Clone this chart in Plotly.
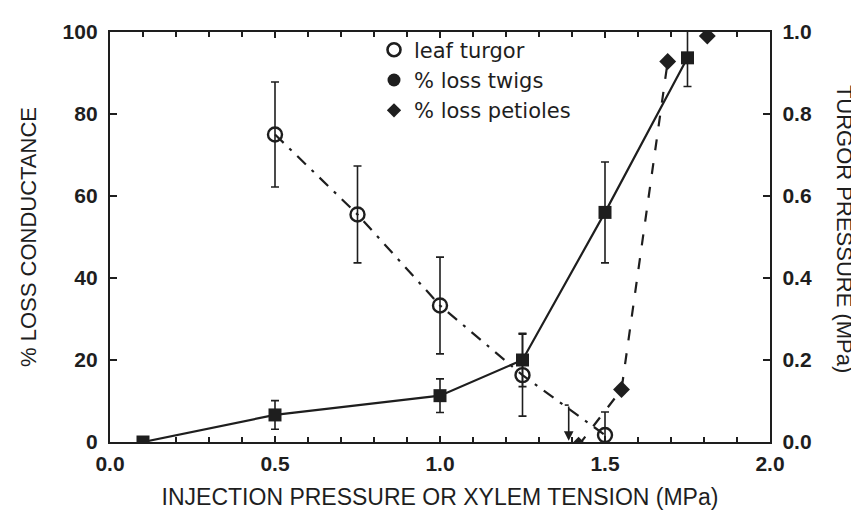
import plotly.graph_objects as go

# leaf turgor (right axis, MPa)
turgor_x = [0.5, 0.75, 1.0, 1.25, 1.5]
turgor_y = [0.75, 0.555, 0.333, 0.163, 0.017]
turgor_err = [0.128, 0.118, 0.118, 0.10, 0.056]

# % loss conductance, twigs (left axis)
twig_x = [0.1, 0.5, 1.0, 1.25, 1.5, 1.75]
twig_y = [0.0, 6.6, 11.3, 20.0, 56.0, 93.7]
twig_err = [0.0, 3.5, 4.1, 6.5, 12.3, 7.0]

# % loss conductance, petioles (left axis)
petiole_x = [1.42, 1.55, 1.69, 1.81]
petiole_y = [-0.8, 12.8, 92.8, 99.0]

# turgor-loss arrow
arrow_x = 1.39
arrow_top = 0.09
arrow_bottom = 0.003

INK = "#1e1e1e"
SANS = "Liberation Sans, Arial, sans-serif"
WIDE = "DejaVu Sans, Verdana, sans-serif"

fig = go.Figure()

fig.add_trace(go.Scatter(
    x=twig_x, y=twig_y, mode="lines+markers", showlegend=False,
    line=dict(color=INK, width=2.2),
    marker=dict(symbol="square", size=13, color=INK),
    error_y=dict(type="data", array=twig_err, color=INK, thickness=1.6, width=4),
))

fig.add_trace(go.Scatter(
    x=petiole_x[:3], y=petiole_y[:3], mode="lines", showlegend=False,
    line=dict(color=INK, width=2.2, dash="11px,13px"),
))
fig.add_trace(go.Scatter(
    x=petiole_x, y=petiole_y, mode="markers", showlegend=False,
    marker=dict(symbol="diamond", size=13, color=INK),
))

fig.add_trace(go.Scatter(
    x=turgor_x, y=turgor_y, yaxis="y2", mode="lines+markers", showlegend=False,
    line=dict(color=INK, width=2.2, dash="12px,8px,3px,8px"),
    marker=dict(symbol="circle-open", size=14, color=INK, line=dict(width=2.4, color=INK)),
    error_y=dict(type="data", array=turgor_err, color=INK, thickness=1.6, width=4),
))

# legend entries
fig.add_trace(go.Scatter(x=[None], y=[None], mode="markers", name="leaf turgor",
                         marker=dict(symbol="circle-open", size=13, color=INK, line=dict(width=2.6))))
fig.add_trace(go.Scatter(x=[None], y=[None], mode="markers", name="% loss twigs",
                         marker=dict(symbol="circle", size=13, color=INK)))
fig.add_trace(go.Scatter(x=[None], y=[None], mode="markers", name="% loss petioles",
                         marker=dict(symbol="diamond", size=11, color=INK)))

# arrow with a small cap
fig.add_trace(go.Scatter(
    x=[arrow_x - 0.012, arrow_x], y=[arrow_top, arrow_top], yaxis="y2",
    mode="lines", showlegend=False, line=dict(color=INK, width=1.6),
))
fig.add_annotation(
    x=arrow_x, y=arrow_bottom, ax=arrow_x, ay=arrow_top,
    xref="x", yref="y2", axref="x", ayref="y2",
    showarrow=True, arrowhead=2, arrowsize=1.2, arrowwidth=1.6, arrowcolor=INK, text="",
)

fig.add_annotation(
    text="TURGOR PRESSURE (MPa)", textangle=90, xref="paper", yref="paper",
    x=1.112, y=0.52, showarrow=False, xanchor="center", yanchor="middle",
    font=dict(family=SANS, size=22, color=INK),
)

tickfont = dict(family=SANS, size=21, color=INK, weight="bold")

fig.update_layout(
    width=859, height=519,
    margin=dict(l=102, r=97, t=22, b=85),
    paper_bgcolor="white", plot_bgcolor="white",
    showlegend=True,
    legend=dict(x=0.4, y=1.006, xanchor="left", yanchor="top",
                bgcolor="rgba(0,0,0,0)", font=dict(family=WIDE, size=21, color=INK),
                itemsizing="trace", tracegroupgap=0),
    xaxis=dict(
        range=[0, 2], dtick=0.5, tickformat=".1f",
        ticks="inside", ticklen=6, tickwidth=2, tickcolor=INK,
        minor=dict(dtick=0.1, ticks="inside", ticklen=5, tickwidth=2, tickcolor=INK),
        showline=True, linewidth=2.4, linecolor=INK, mirror="ticks",
        showgrid=False, zeroline=False, tickfont=tickfont, ticklabelstandoff=2,
        title=dict(text="INJECTION PRESSURE OR XYLEM TENSION (MPa)",
                   font=dict(family=SANS, size=23, color=INK), standoff=14),
    ),
    yaxis=dict(
        range=[0, 100], dtick=20,
        ticks="inside", ticklen=7, tickwidth=2, tickcolor=INK,
        showline=True, linewidth=2.4, linecolor=INK,
        showgrid=False, zeroline=False, tickfont=tickfont, ticklabelstandoff=6,
        title=dict(text="% LOSS CONDUCTANCE",
                   font=dict(family=SANS, size=22, color=INK), standoff=20),
    ),
    yaxis2=dict(
        range=[0, 1], dtick=0.2, tickformat=".1f", overlaying="y", side="right",
        ticks="inside", ticklen=7, tickwidth=2, tickcolor=INK,
        showline=True, linewidth=2.4, linecolor=INK,
        showgrid=False, zeroline=False, tickfont=tickfont, ticklabelstandoff=6,
    ),
)

fig.write_html("out.html")
